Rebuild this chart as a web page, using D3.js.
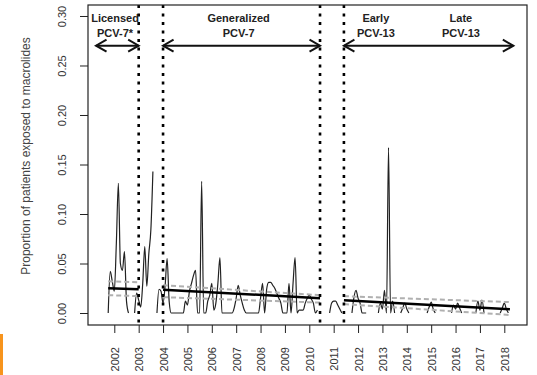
<!DOCTYPE html>
<html>
<head>
<meta charset="utf-8">
<script src="https://cdn.jsdelivr.net/npm/d3@7"></script>
<style>
  body { margin: 0; background: #fff; }
  svg { display: block; }
  text { font-family: "Liberation Sans", Arial, Helvetica, sans-serif; }
</style>
</head>
<body>
<svg id="chart" width="537" height="375"></svg>
<script>
// Monthly proportion of patients exposed to macrolides.
// Month numbers count from January 2001 (0 = Jan 2001).
const licensedStart = 9;       // Oct 2001
const licensedValues = [0, .042, .032, .022, .07, .131, .05, .043, .062, .012, 0, null, null, 0,
  .02, .013, .006, .03, .067, .027, .06, .084, .143];

const generalizedStart = 33;   // Oct 2003
const generalizedValues = [0, .024, .022, .01, .027, .055, .012, 0, 0, 0, 0, 0, 0, 0,
  .012, .008, .022, .03, .038, .043, 0, 0, .133, 0, 0, .012, .018, .03, .003, .01, .03, .056,
  0, 0, 0, 0, 0, 0, .005, .015, .028, .018, .01, .003, 0, 0, 0, 0, 0, 0, 0, .015, .03, 0,
  .024, .031, .031, .028, .025, .02, .015, .01, 0, 0, 0, .03, 0, .03, .056, 0, .003, .003,
  .003, .01, .015, .018, .014, .01, 0, .003];

const interimStart = 118;      // Nov 2010
const interimValues = [0, .01, .012, .012, .008, .004, 0];

const pcv13Start = 129;        // Oct 2011
const pcv13Values = [0, .016, .023, .015, .01, 0, 0, 0, null, null, null, null, null,
  0, .01, .004, .023, 0, .167, 0, .012, 0, null, null,
  0, .005, .01, .004, 0, null, null, null, null, null, null, null, null,
  0, .006, .011, .004, 0, null, null, null, null, null, null, null,
  0, .008, .004, .01, .005, 0, null, null, null, null, null, null,
  0, .012, .003, .013, 0, null, null, null, null, null, null, null,
  0, .005, .01, .004, 0];

// Segmented regression fits per period: [start, end] values
const trendYears = [[2001.75, 2003.0], [2004.0, 2010.44], [2011.42, 2018.23]];
const trendFit   = [[.025, .024], [.0235, .015], [.013, .0037]];
const trendUpper = [[.032, .031], [.028, .018], [.017, .011]];
const trendLower = [[.018, .017], [.016, .0105], [.009, -.002]];

// Period boundaries (vertical dotted lines)
const periodBreaks = [2003.0, 2004.0, 2010.44, 2011.42];

// Period arrows and their labels
const arrowSpans = [[2001.25, 2003.0], [2004.0, 2010.44], [2011.42, 2018.37]];
const arrowLevel = 0.27;
const periodLabels = [
  { year: 2002.03, lines: ["Licensed", "PCV-7*"] },
  { year: 2007.1,  lines: ["Generalized", "PCV-7"] },
  { year: 2012.73, lines: ["Early", "PCV-13"] },
  { year: 2016.22, lines: ["Late", "PCV-13"] }
];

const yearTicks = d3.range(2002, 2019);
const propTicks = [0, 0.05, 0.10, 0.15, 0.20, 0.25, 0.30];

const svg = d3.select("#chart");
const plot = { left: 88, right: 527, top: 5, bottom: 325 };

const x = d3.scaleLinear().domain([2000.921, 2018.931]).range([plot.left, plot.right]);
const y = d3.scaleLinear().domain([-0.01212, 0.31111]).range([plot.bottom, plot.top]);

// Axes
const yAxis = svg.append("g")
  .attr("transform", `translate(${plot.left},0)`)
  .call(d3.axisLeft(y).tickValues(propTicks).tickFormat(d3.format(".2f")).tickSize(8).tickSizeOuter(0));
yAxis.select(".domain").remove();
yAxis.selectAll(".tick line").attr("stroke", "#222");
yAxis.selectAll(".tick text")
  .attr("x", null).attr("dy", null)
  .attr("text-anchor", "middle")
  .attr("transform", "translate(-22.5,0) rotate(-90)")
  .attr("fill", "#333")
  .style("font-size", "11px");

const xAxis = svg.append("g")
  .attr("transform", `translate(0,${plot.bottom})`)
  .call(d3.axisBottom(x).tickValues(yearTicks).tickFormat(d3.format("d")).tickSize(8).tickSizeOuter(0));
xAxis.select(".domain").remove();
xAxis.selectAll(".tick line").attr("stroke", "#222");
xAxis.selectAll(".tick text")
  .attr("y", null).attr("dy", null)
  .attr("text-anchor", "end")
  .attr("transform", "translate(4,22) rotate(-90)")
  .attr("fill", "#333")
  .style("font-size", "11px");

// Y axis title
svg.append("text")
  .attr("transform", "translate(29.5,156) rotate(-90)")
  .attr("text-anchor", "middle")
  .attr("fill", "#444")
  .style("font-size", "12px")
  .text("Proportion of patients exposed to macrolides");

// Monthly series
const toPoints = (start, values) => values.map((v, i) => ({ year: 2001 + (start + i) / 12, value: v }));
const runs = [
  toPoints(licensedStart, licensedValues),
  toPoints(generalizedStart, generalizedValues),
  toPoints(interimStart, interimValues),
  toPoints(pcv13Start, pcv13Values)
];
const line = d3.line()
  .defined(d => d.value != null)
  .x(d => x(d.year))
  .y(d => y(d.value))
  .curve(d3.curveMonotoneX);

svg.append("g").selectAll("path").data(runs).join("path")
  .attr("d", line)
  .attr("fill", "none")
  .attr("stroke", "#222")
  .attr("stroke-width", 1.2);

// Confidence bands (dashed) and fitted trends (solid)
const seg = (years, vals) => `M${x(years[0])},${y(vals[0])}L${x(years[1])},${y(vals[1])}`;
const trends = svg.append("g");
trendYears.forEach((yrs, i) => {
  [trendUpper[i], trendLower[i]].forEach(vals => {
    trends.append("path")
      .attr("d", seg(yrs, vals))
      .attr("stroke", "#b0b0b0")
      .attr("stroke-width", 2)
      .attr("stroke-dasharray", "5,3")
      .attr("fill", "none");
  });
  trends.append("path")
    .attr("d", seg(yrs, trendFit[i]))
    .attr("stroke", "#000")
    .attr("stroke-width", 2.5)
    .attr("fill", "none");
});

// Period boundaries
svg.append("g").selectAll("line").data(periodBreaks).join("line")
  .attr("x1", d => x(d)).attr("x2", d => x(d))
  .attr("y1", plot.top).attr("y2", plot.bottom)
  .attr("stroke", "#000")
  .attr("stroke-width", 2.6)
  .attr("stroke-dasharray", "3,5.5");

// Double-headed period arrows
const ay = y(arrowLevel);
const headLen = 10.5, headHalf = 6;
const arrows = svg.append("g").attr("fill", "none").attr("stroke", "#111").attr("stroke-width", 2);
arrowSpans.forEach(([a, b]) => {
  const x0 = x(a), x1 = x(b);
  arrows.append("path").attr("d", `M${x0},${ay}L${x1},${ay}`);
  arrows.append("path").attr("d", `M${x0 + headLen},${ay - headHalf}L${x0},${ay}L${x0 + headLen},${ay + headHalf}`);
  arrows.append("path").attr("d", `M${x1 - headLen},${ay - headHalf}L${x1},${ay}L${x1 - headLen},${ay + headHalf}`);
});

// Period labels
const labels = svg.append("g")
  .attr("text-anchor", "middle")
  .attr("fill", "#222")
  .style("font-size", "11px")
  .style("font-weight", "bold");
periodLabels.forEach(p => {
  p.lines.forEach((t, i) => {
    labels.append("text")
      .attr("x", x(p.year))
      .attr("y", plot.top + 16.7 + i * 15.6)
      .text(t);
  });
});

// Plot frame
svg.append("rect")
  .attr("x", plot.left).attr("y", plot.top)
  .attr("width", plot.right - plot.left).attr("height", plot.bottom - plot.top)
  .attr("fill", "none").attr("stroke", "#222").attr("stroke-width", 1.2);

// Edge marker
svg.append("rect")
  .attr("x", 0).attr("y", 334).attr("width", 3).attr("height", 41)
  .attr("fill", "#f7941d");
</script>
</body>
</html>
